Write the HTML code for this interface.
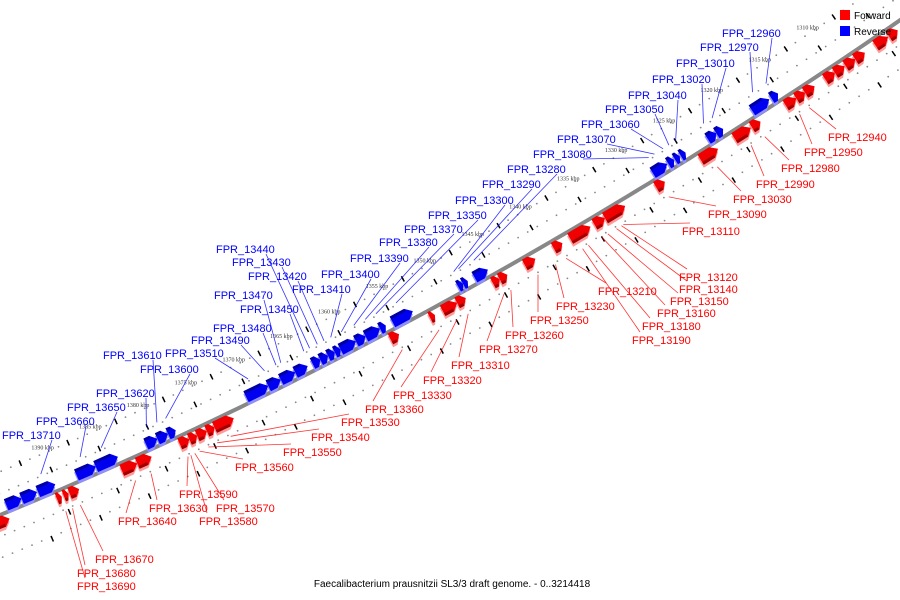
<!DOCTYPE html>
<html><head><meta charset="utf-8"><style>
html,body{margin:0;padding:0;background:#fff;}
svg{display:block;font-family:"Liberation Sans",sans-serif;}
</style></head><body>
<svg id="chart" width="900" height="600" viewBox="0 0 900 600" xmlns="http://www.w3.org/2000/svg">
<g id="grid"></g>
<path id="backbone" fill="none" stroke="#888" stroke-width="4"/>
<g id="genes"></g>
<g id="labels"></g>
<g>
<rect x="840" y="10" width="10" height="10" fill="#f00"/>
<text x="854" y="19" font-size="10" fill="#000">Forward</text>
<rect x="840" y="26" width="10" height="10" fill="#00f"/>
<text x="854" y="35" font-size="10" fill="#000">Reverse</text>
</g>
<text x="452" y="587" font-size="10" text-anchor="middle" fill="#000">Faecalibacterium prausnitzii SL3/3 draft genome. - 0..3214418</text>
</svg>
<script>
// gene data (kbp)
const revStart=[1315.2,1316.1,1320.9,1321.6,1324.8,1325.4,1326.0,1326.7,1345.3,1347.4,1347.9,1353.1,1355.9,1356.5,1358.0,1359.0,1360.6,1361.2,1361.9,1362.7,1364.0,1365.3,1366.8,1368.1,1377.7,1378.5,1379.6,1383.7,1386.0,1390.2,1392.1,1393.7];
const revEnd  =[1315.9,1317.9,1321.6,1322.5,1325.3,1325.9,1326.6,1328.2,1346.7,1347.9,1348.4,1355.2,1356.5,1358.0,1359.0,1360.6,1361.2,1361.9,1362.7,1363.5,1365.3,1366.8,1368.1,1370.4,1378.5,1379.6,1380.8,1386.0,1388.0,1392.0,1393.7,1395.3];
const fwdStart=[1303.6,1304.6,1307.0,1308.0,1309.1,1310.1,1312.2,1313.2,1314.1,1317.8,1318.8,1322.2,1327.7,1331.8,1333.9,1335.4,1338.3,1341.1,1344.0,1344.8,1348.3,1349.2,1351.5,1355.2,1372.3,1374.3,1375.1,1376.1,1376.9,1380.8,1382.3,1388.3,1389.4,1390.1,1395.5];
const fwdEnd  =[1304.5,1305.9,1308.0,1309.0,1310.1,1311.1,1313.2,1314.1,1315.2,1318.7,1320.5,1324.0,1328.6,1333.9,1335.0,1337.5,1339.2,1342.2,1344.8,1345.5,1349.2,1350.7,1352.0,1356.1,1374.3,1375.1,1376.1,1376.9,1377.9,1382.3,1383.9,1389.3,1389.9,1390.6,1396.8];
const tickKbp=[1305,1310,1315,1320,1325,1330,1335,1340,1345,1350,1355,1360,1365,1370,1375,1380,1385,1390];
const revNames=["FPR_12960","FPR_12970","FPR_13010","FPR_13020","FPR_13040","FPR_13050","FPR_13060","FPR_13070","FPR_13080","FPR_13280","FPR_13290","FPR_13300","FPR_13350","FPR_13370","FPR_13380","FPR_13390","FPR_13400","FPR_13410","FPR_13420","FPR_13430","FPR_13440","FPR_13450","FPR_13470","FPR_13480","FPR_13490","FPR_13510","FPR_13600","FPR_13610","FPR_13620","FPR_13650","FPR_13660","FPR_13710"];
const revTarget=[1315.6,1317.0,1321.2,1322.1,1325.0,1325.7,1326.3,1327.2,1327.8,1346.0,1347.6,1348.1,1354.1,1356.2,1357.3,1358.5,1359.8,1360.9,1361.6,1362.3,1363.1,1363.7,1366.1,1366.6,1367.8,1369.5,1378.1,1379.0,1380.1,1384.8,1387.0,1391.1];
const revLX=[722,700,676,652,628,605,581,557,533,507,482,455,428,404,379,350,321,292,248,232,216,240,214,213,191,165,140,103,96,67,36,2];
const revLY=[33,47,63,79,95,109,124,139,154,169,184,200,215,229,242,258,274,289,276,262,249,309,295,328,340,353,369,355,393,407,421,435];
const fwdNames=["FPR_12940","FPR_12950","FPR_12980","FPR_12990","FPR_13030","FPR_13090","FPR_13110","FPR_13120","FPR_13140","FPR_13150","FPR_13160","FPR_13180","FPR_13190","FPR_13210","FPR_13230","FPR_13250","FPR_13260","FPR_13270","FPR_13310","FPR_13320","FPR_13330","FPR_13360","FPR_13530","FPR_13540","FPR_13550","FPR_13560","FPR_13570","FPR_13580","FPR_13590","FPR_13630","FPR_13640","FPR_13670","FPR_13680","FPR_13690"];
const fwdTarget=[1313.6,1314.6,1318.2,1319.6,1323.1,1328.1,1332.8,1333.0,1333.5,1334.4,1335.0,1336.4,1337.0,1338.7,1339.8,1341.6,1344.4,1345.1,1348.8,1350.0,1351.8,1355.6,1373.3,1374.7,1375.6,1376.5,1377.0,1377.4,1377.7,1381.5,1383.1,1388.8,1389.6,1390.3];
const fwdLX=[828,804,781,756,733,708,682,679,679,670,657,642,632,598,556,530,505,479,451,423,393,365,341,311,283,235,216,199,179,149,118,95,77,77];
const fwdLY=[137,152,168,184,199,214,231,277,289,301,313,326,340,291,306,320,335,349,365,380,395,409,422,437,452,467,508,521,494,508,521,559,573,586];

const NS="http://www.w3.org/2000/svg";
function cy(x){return 515-0.4114*x-0.0001537*x*x;}
function slope(x){return -0.4114-0.0003074*x;}
function kx(k){return 832-9.65*(k-1310);}
function pt(k,d){const x=kx(k),s=slope(x),L=Math.hypot(1,s);return [x+d*s/L,cy(x)-d/L];}
function mk(tag,attrs,parent){const e=document.createElementNS(NS,tag);for(const a in attrs)e.setAttribute(a,attrs[a]);parent.appendChild(e);return e;}

// backbone
let d="";for(let x=-10;x<=910;x+=10){d+=(x===-10?"M":"L")+x+","+cy(x).toFixed(1);}
document.getElementById("backbone").setAttribute("d",d);

// scale rows
const grid=document.getElementById("grid");
for(let k=1300;k<=1400;k+=1){
  [20,-20,40,-40].forEach(off=>{
    const p=pt(k+0.5,off);
    if(p[0]<-5||p[0]>905||p[1]<-5||p[1]>605)return;
    const c=mk("circle",{cx:p[0].toFixed(1),cy:p[1].toFixed(1),r:0.9,fill:"#888"},grid);
    
    
  });
}
function dash(k,off){
  const a=pt(k,off+3),b=pt(k,off-3);
  const l=mk("line",{x1:a[0],y1:a[1],x2:b[0],y2:b[1],stroke:"#000","stroke-width":1.5},grid);
  
  
}
tickKbp.forEach(k=>{
  dash(k,22);dash(k,-24);dash(k+2.5,40);dash(k+2.5,-42);
  const p=pt(k,44);
  const t=mk("text",{x:p[0].toFixed(1),y:p[1].toFixed(1),"font-size":"6","text-anchor":"middle",fill:"#333","font-family":"Liberation Serif, serif"},grid);
  t.textContent=k+" kbp";
  
  
});

// genes
const genes=document.getElementById("genes");
function gene(k1,k2,side,name){
  const sg=side>0?1:-1;
  const lo=sg*1, hi=sg*13;
  const tipLen=Math.min(0.6,(k2-k1)*0.5);
  function poly(dy,fill){
    const a=pt(k2,lo),b=pt(k2,hi),c=pt(k1+tipLen,hi),t=pt(k1,(lo+hi)/2),e=pt(k1+tipLen,lo);
    const p=[a,b,c,t,e].map(q=>q[0].toFixed(1)+","+(q[1]+dy).toFixed(1)).join(" ");
    return mk("polygon",{points:p,fill:fill},genes);
  }
  const g1=poly(3,side>0?"#9090ff":"#ff9a9a");
  
  
  const g2=poly(0,side>0?"#0000f0":"#f00000");
  
  
  const a=pt(k2,hi),b=pt(k1+tipLen,hi),c=pt(k1+tipLen,hi-sg*3),e=pt(k2,hi-sg*3);
  const top=mk("polygon",{points:[a,b,c,e].map(q=>q[0].toFixed(1)+","+q[1].toFixed(1)).join(" "),fill:side>0?"#0000a0":"#a00000"},genes);
  
  
}
for(let i=0;i<revStart.length;i++)gene(revStart[i],revEnd[i],1,'reverse-gene');
for(let i=0;i<fwdStart.length;i++)gene(fwdStart[i],fwdEnd[i],-1,'forward-gene');

// labels
const labels=document.getElementById("labels");
function label(name,lx,ly,k,side){
  const col=side>0?"#0000ff":"#ff0000";
  const p=pt(k,side>0?22:-22);
  const sx=side>0?lx+50:lx+8, sy=side>0?ly+5:ly-8;
  const l=mk("line",{x1:sx,y1:sy,x2:p[0].toFixed(1),y2:p[1].toFixed(1),stroke:col,"stroke-width":0.8,opacity:0.8},labels);
  
  
  const t=mk("text",{x:lx,y:ly+4,"font-size":"11",fill:col},labels);
  t.textContent=name;
  
  
}
for(let i=0;i<revNames.length;i++)label(revNames[i],revLX[i],revLY[i],revTarget[i],1);
for(let i=0;i<fwdNames.length;i++)label(fwdNames[i],fwdLX[i],fwdLY[i],fwdTarget[i],-1);
</script>
</body></html>
